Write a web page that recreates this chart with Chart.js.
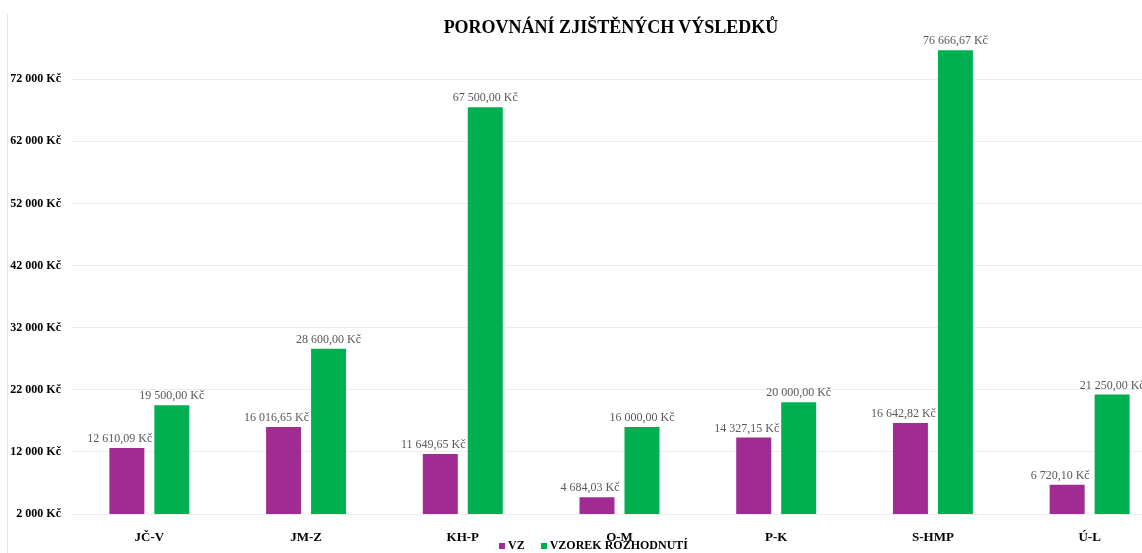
<!DOCTYPE html>
<html lang="cs">
<head>
    <meta charset="UTF-8">
    <title>Porovnání zjištěných výsledků</title>
    <script src="https://cdn.jsdelivr.net/npm/chart.js"></script>
    <style>
        html, body { margin: 0; padding: 0; background: #fff; overflow: hidden; }
        .obal { position: relative; width: 1142px; height: 553px; overflow: hidden; }
        .ramecek { position: absolute; left: 7px; top: 14px; height: 545px; border-left: 1px solid #e6e6e6; }
        .nadpis {
            position: absolute; left: 0; top: 17px; width: 1222px; text-align: center;
            font: bold 18px "Liberation Serif", "Times New Roman", serif; color: #000;
        }
        .legenda {
            position: absolute; left: 499px; top: 538px; display: flex; gap: 16px;
            font: bold 12px "Liberation Serif", "Times New Roman", serif; color: #000;
        }
        .legenda span { display: flex; align-items: center; white-space: nowrap; }
        .legenda i { display: inline-block; width: 6px; height: 6px; margin-right: 3px; }
        #graf { position: absolute; left: 0; top: 0; }
    </style>
</head>
<body>
    <div class="obal">
        <div class="ramecek"></div>
        <canvas id="graf" width="1170" height="553" style="width:1170px;height:553px"></canvas>
        <div class="nadpis">POROVNÁNÍ ZJIŠTĚNÝCH VÝSLEDKŮ</div>
        <div class="legenda" id="legenda"></div>
    </div>

    <script>
        // data
        const kraje = ['JČ-V', 'JM-Z', 'KH-P', 'O-M', 'P-K', 'S-HMP', 'Ú-L'];
        const hodnotyVZ = [12610.09, 16016.65, 11649.65, 4684.03, 14327.15, 16642.82, 6720.10];
        const hodnotyVzorek = [19500, 28600, 67500, 16000, 20000, 76666.67, 21250];
        const osaMin = 2000;
        const osaMax = 82000;
        const osaKrok = 10000;

        function tisice(s) {
            return s.replace(/\B(?=(\d{3})+(?!\d))/g, ' ');
        }
        function korunyDesetiny(v) {
            const casti = v.toFixed(2).split('.');
            return tisice(casti[0]) + ',' + casti[1] + ' Kč';
        }
        function koruny(v) {
            return tisice(String(Math.round(v))) + ' Kč';
        }

        const serif = '"Liberation Serif", "Times New Roman", serif';

        // popisky hodnot nad sloupci (u VZ posunuté kousek doleva jako v Excelu)
        const popiskyPlugin = {
            id: 'popisky',
            afterDatasetsDraw(chart) {
                const ctx = chart.ctx;
                ctx.save();
                ctx.font = '12px ' + serif;
                ctx.fillStyle = '#595959';
                ctx.textAlign = 'center';
                ctx.textBaseline = 'bottom';
                chart.data.datasets.forEach((ds, i) => {
                    const posun = i === 0 ? -7 : 0;
                    chart.getDatasetMeta(i).data.forEach((bar, j) => {
                        ctx.fillText(korunyDesetiny(ds.data[j]), bar.x + posun, bar.y - 3);
                    });
                });
                ctx.restore();
            }
        };

        const graf = new Chart(document.getElementById('graf'), {
            type: 'bar',
            data: {
                labels: kraje,
                datasets: [{
                    label: 'VZ',
                    data: hodnotyVZ,
                    backgroundColor: '#A02B93',
                    categoryPercentage: 0.574,
                    barPercentage: 0.778
                }, {
                    label: 'VZOREK ROZHODNUTÍ',
                    data: hodnotyVzorek,
                    backgroundColor: '#00B050',
                    categoryPercentage: 0.574,
                    barPercentage: 0.778
                }]
            },
            options: {
                responsive: false,
                animation: false,
                layout: { padding: { left: 0, right: 2, top: 14, bottom: 0 } },
                plugins: {
                    legend: { display: false },
                    tooltip: { enabled: false }
                },
                scales: {
                    x: {
                        grid: { display: false },
                        border: { display: false },
                        ticks: {
                            color: '#000',
                            padding: 8,
                            font: { family: serif, size: 13, weight: 'bold' }
                        },
                        afterFit(scale) { scale.height = 39; }
                    },
                    y: {
                        min: osaMin,
                        max: osaMax,
                        ticks: {
                            stepSize: osaKrok,
                            color: '#000',
                            padding: 10,
                            font: { family: serif, size: 12, weight: 'bold' },
                            callback: (v) => v >= osaMax ? '' : koruny(v)
                        },
                        grid: {
                            color: (c) => c.tick && c.tick.value >= osaMax ? 'rgba(0,0,0,0)' : '#ececec',
                            drawTicks: false
                        },
                        border: { display: false },
                        afterFit(scale) { scale.width = 71; }
                    }
                }
            },
            plugins: [popiskyPlugin]
        });

        // legenda z datových řad
        const legenda = document.getElementById('legenda');
        graf.data.datasets.forEach((ds) => {
            const polozka = document.createElement('span');
            const znacka = document.createElement('i');
            znacka.style.background = ds.backgroundColor;
            polozka.appendChild(znacka);
            polozka.appendChild(document.createTextNode(ds.label));
            legenda.appendChild(polozka);
        });
    </script>
</body>
</html>
